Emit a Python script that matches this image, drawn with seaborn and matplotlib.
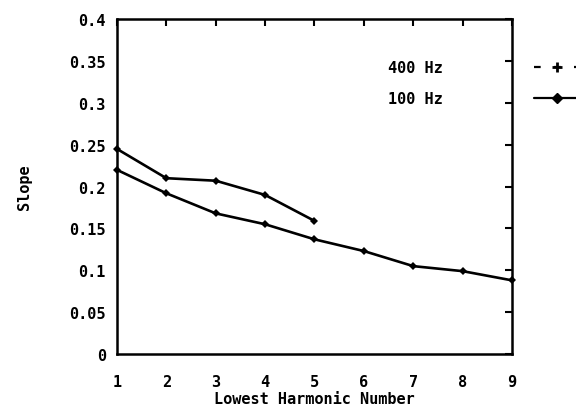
import matplotlib
matplotlib.use("Agg")
import matplotlib.pyplot as plt
import seaborn as sns
import pandas as pd
from matplotlib.lines import Line2D

harmonic_400 = [1, 2, 3, 4, 5]
slope_400 = [0.245, 0.210, 0.207, 0.190, 0.159]
harmonic_100 = [1, 2, 3, 4, 5, 6, 7, 8, 9]
slope_100 = [0.220, 0.192, 0.168, 0.155, 0.137, 0.123, 0.105, 0.099, 0.088]
x_ticks = [1, 2, 3, 4, 5, 6, 7, 8, 9]
y_ticks = [0, 0.05, 0.1, 0.15, 0.2, 0.25, 0.3, 0.35, 0.4]
y_tick_labels = ["0", "0.05", "0.1", "0.15", "0.2", "0.25", "0.3", "0.35", "0.4"]
series_labels = ["400 Hz", "100 Hz"]

sns.set_style("white")
plt.rcParams['font.family'] = ['DejaVu Sans Mono', 'DejaVu Sans']
plt.rcParams['font.weight'] = 'bold'
plt.rcParams['text.color'] = 'black'
plt.rcParams['axes.labelcolor'] = 'black'

df400 = pd.DataFrame({"h": harmonic_400, "s": slope_400})
df100 = pd.DataFrame({"h": harmonic_100, "s": slope_100})

fig = plt.figure(figsize=(5.76, 4.10), dpi=100)
ax = fig.add_axes([0.203, 0.134, 0.686, 0.817])

sns.lineplot(data=df400, x="h", y="s", ax=ax, color="black", lw=1.9,
             marker="D", markersize=4, markeredgewidth=0, clip_on=False)
sns.lineplot(data=df100, x="h", y="s", ax=ax, color="black", lw=1.9,
             marker="D", markersize=4, markeredgewidth=0, clip_on=False)

ax.set_xlim(1, 9)
ax.set_ylim(0, 0.4)
ax.set_xticks(x_ticks)
ax.set_xticklabels([str(v) for v in x_ticks])
ax.set_yticks(y_ticks)
ax.set_yticklabels(y_tick_labels)
ax.tick_params(direction="in", length=5, width=1.5, top=True, right=True,
               labelsize=11, colors="black")
ax.tick_params(axis="x", pad=14)
ax.tick_params(axis="y", pad=8)
for sp in ax.spines.values():
    sp.set_visible(True)
    sp.set_linewidth(1.8)
    sp.set_color("black")

ax.set_xlabel("Lowest Harmonic Number", fontsize=11, fontweight="bold",
              labelpad=2, color="black")
ax.set_ylabel("Slope", fontsize=11, fontweight="bold", labelpad=27, color="black")

handles = [
    Line2D([], [], color="black", lw=1.6, ls=(0, (3, 6)), marker="+", markersize=7, markeredgewidth=2),
    Line2D([], [], color="black", lw=1.6, ls="-", marker="D", markersize=5),
]
leg = ax.legend(handles, series_labels, loc="upper left", bbox_to_anchor=(0.686, 0.878),
                markerfirst=False, frameon=False, fontsize=11, handlelength=3.0,
                handletextpad=6.0, labelspacing=1.05, borderpad=0, borderaxespad=0)
for t in leg.get_texts():
    t.set_fontweight("bold")
    t.set_color("black")

fig.savefig("out.png", dpi=100)
